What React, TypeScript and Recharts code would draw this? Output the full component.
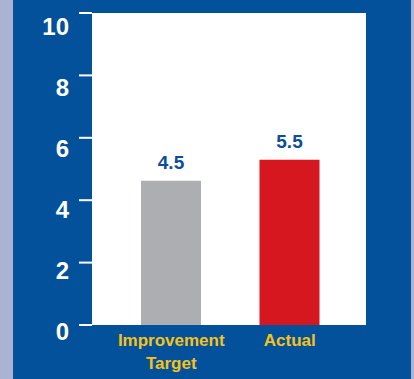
import { BarChart, Bar, XAxis, YAxis, CartesianGrid, LabelList, Cell } from 'recharts'

const categories = ['Improvement Target', 'Actual']
const barValues = [4.62, 5.3]
const valueLabels = ['4.5', '5.5']
const barColors = ['#adaeb1', '#d7171f']
const yTicks = [0, 2, 4, 6, 8, 10]

const FONT = "'Liberation Sans', Arial, sans-serif"

const data = categories.map((name, i) => ({ name, value: barValues[i], label: valueLabels[i] }))

function YTick({ x, y, payload }: any) {
  // labels in the original sit a little lower than their tick marks
  const shift = 6 + payload.value * 0.76
  return (
    <text x={x} y={y + shift} dy="0.355em" textAnchor="end" fill="#fff" fontSize={24} fontWeight="bold" fontFamily={FONT}>
      {payload.value}
    </text>
  )
}

function XTick({ x, y, payload }: any) {
  const words = String(payload.value).split(' ')
  return (
    <text x={x} y={y} textAnchor="middle" fill="#f6c21c" fontSize={17} fontWeight="bold" fontFamily={FONT}>
      {words.map((w, i) => (
        <tspan key={i} x={x} dy={i === 0 ? 21 : 23}>{w}</tspan>
      ))}
    </text>
  )
}

export default function App() {
  return (
    <div
      style={{
        position: 'absolute', left: 0, top: 0, width: 414, height: 379,
        background: 'linear-gradient(to right, #aab3d4 0 13px, #03519a 13px 411px, #aab3d4 411px)',
      }}
    >
      <BarChart width={414} height={379} data={data} margin={{ top: 13, right: 48, left: 0, bottom: 0 }}>
        <CartesianGrid horizontal={false} vertical={false} fill="#fff" stroke="none" />
        <XAxis
          dataKey="name"
          axisLine={false}
          tickLine={false}
          tickSize={0}
          tickMargin={0}
          height={54}
          interval={0}
          padding={{ left: 20, right: 17 }}
          tick={<XTick />}
        />
        <YAxis
          domain={[0, 10]}
          ticks={yTicks}
          width={92}
          axisLine={false}
          tickSize={13}
          tickMargin={10}
          tickLine={{ stroke: '#fff', strokeWidth: 2 }}
          tick={<YTick />}
        />
        <Bar dataKey="value" barSize={60} isAnimationActive={false}>
          {data.map((d, i) => <Cell key={d.name} fill={barColors[i]} />)}
          <LabelList dataKey="label" position="top" offset={12} fill="#0b4f9a" fontSize={19} fontWeight="bold" fontFamily={FONT} />
        </Bar>
      </BarChart>
    </div>
  )
}
